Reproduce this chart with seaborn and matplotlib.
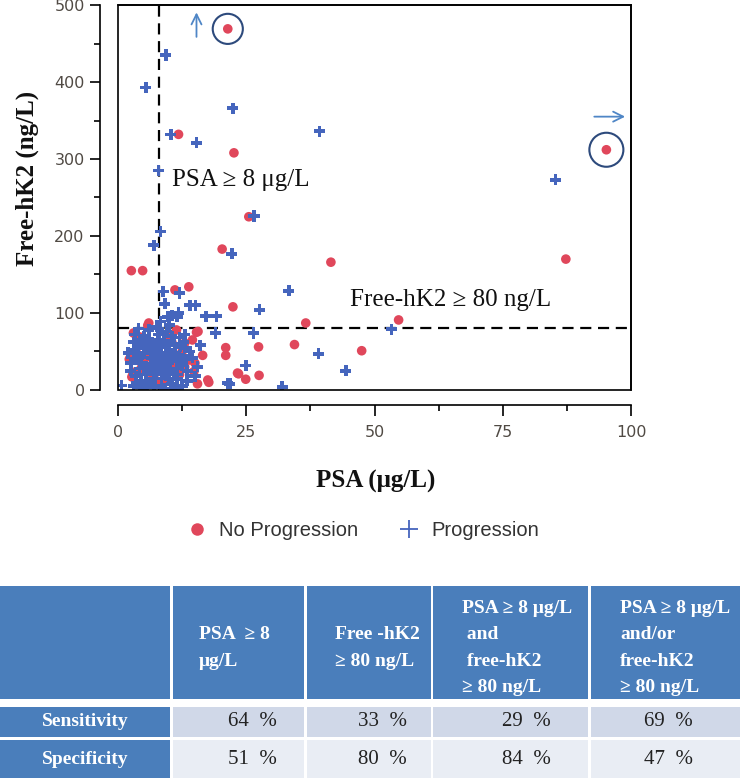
import numpy as np
import pandas as pd
import matplotlib
matplotlib.use("Agg")
import matplotlib.pyplot as plt
import seaborn as sns
from matplotlib.lines import Line2D
from matplotlib.patches import Rectangle

# ---- data ----
# No Progression (red dots)
nopro_psa = [21.4, 95.2, 22.6, 11.8, 25.5, 20.3, 41.5, 87.3, 2.6, 4.8, 11.1, 13.8,
             22.4, 54.7, 36.6, 34.4, 27.4, 47.5, 27.5, 23.5, 24.9, 17.5, 15.6, 11.4,
             6.0, 21.0, 21.0, 17.7, 23.3, 15.3,
             5.8, 2.9, 14.0, 13.0, 15.0, 7.1, 6.2, 4.2, 2.7, 8.0, 10.0, 12.0, 3.5,
             9.0, 6.5, 11.0, 15.5, 14.5, 7.5, 5.0, 13.0, 4.0, 10.5, 16.5, 3.0, 9.5,
             2.2, 6.8, 12.5, 14.8, 8.8, 4.5]
nopro_hk2 = [469, 312, 308, 332, 225, 183, 166, 170, 155, 155, 130, 134,
             108, 91, 87, 59, 56, 51, 19, 21, 14, 13, 76, 78,
             87, 55, 45, 10, 22, 75,
             84, 23, 39, 61, 35, 52, 43, 69, 17, 62, 45, 20, 50,
             10, 28, 35, 8, 65, 12, 38, 30, 8, 62, 45, 74, 70,
             40, 18, 50, 24, 34, 28]

# Progression (blue plus)
pro_psa = [9.3, 5.4, 22.4, 39.3, 10.3, 15.3, 7.9, 85.3, 26.5, 8.3, 7.0, 22.2,
           33.3, 8.8, 12.0, 9.1, 14.0, 15.1, 27.6, 10.5, 11.8, 17.1, 19.2, 8.3,
           53.3, 19.0, 26.4, 3.3, 39.1, 24.9, 44.4, 21.8, 32.0, 0.7, 3.6, 21.4,
           9.7, 11.5, 7.8,
           3.0, 4.0, 5.0, 6.0, 7.0, 8.0, 9.0, 10.0, 11.0, 12.0, 13.0, 14.0,
           3.5, 4.5, 5.5, 6.5, 7.5, 8.5, 9.5, 10.5, 11.5, 12.5, 13.5, 14.5,
           2.5, 3.5, 4.5, 5.5, 6.5, 7.5, 8.5, 9.5, 10.5, 11.5, 12.5, 13.5, 15.0,
           3.0, 5.0, 7.0, 9.0, 11.0, 6.0, 7.5, 9.5, 10.5, 4.0, 5.0, 8.0, 9.0,
           6.0, 12.0, 13.0, 2.0, 2.5, 16.0, 15.5, 8.5, 4.5, 10.0,
           3.8, 5.2, 6.8, 8.2, 9.8, 11.2, 4.2, 5.8, 7.2, 8.8, 10.2, 11.8,
           3.2, 4.8, 6.2, 7.8, 9.2, 10.8, 12.2, 5.5, 7.0, 8.5, 10.0, 11.5,
           13.2, 6.5, 9.0, 4.0, 7.8, 12.8]
pro_hk2 = [435, 393, 366, 336, 332, 321, 285, 273, 226, 206, 188, 177,
           129, 128, 126, 112, 110, 110, 104, 97, 100, 96, 96, 89,
           79, 74, 74, 72, 47, 32, 25, 8, 4, 6, 9, 9,
           95, 95, 80,
           62, 55, 48, 66, 58, 72, 64, 52, 60, 45, 55, 50,
           40, 35, 30, 42, 38, 46, 34, 40, 28, 32, 25, 42,
           25, 18, 12, 20, 10, 22, 15, 20, 8, 14, 5, 12, 18,
           5, 3, 4, 2, 3, 78, 82, 76, 70, 80, 70, 30, 26,
           54, 68, 72, 48, 35, 58, 30, 56, 60, 84,
           45, 58, 50, 42, 58, 48, 28, 25, 32, 20, 28, 38,
           52, 65, 62, 65, 44, 22, 56, 8, 15, 5, 14, 20,
           40, 34, 38, 42, 48, 62]

psa_cut = 8
hk2_cut = 80

legend_labels = ["No Progression", "Progression"]

col_headers = ["PSA  \u2265 8\n\u03bcg/L",
               "Free -hK2\n\u2265 80 ng/L",
               "PSA \u2265 8 \u03bcg/L\n and\n free-hK2\n\u2265 80 ng/L",
               "PSA \u2265 8 \u03bcg/L\nand/or\nfree-hK2\n\u2265 80 ng/L"]
row_labels = ["Sensitivity", "Specificity"]
sensitivity = [64, 33, 29, 69]
specificity = [51, 80, 84, 47]

RED = "#e0475b"
BLUE = "#4565bd"

W, H = 740, 778
sns.set_theme(style="ticks")
plt.rcParams["font.family"] = ["DejaVu Sans"]

fig = plt.figure(figsize=(W / 100, H / 100), dpi=100)

def fx(px):
    return px / W

def fy(py):
    return 1 - py / H

ax = fig.add_axes([fx(118), fy(390), fx(631) - fx(118), fy(5) - fy(390)])

df_red = pd.DataFrame({"psa": nopro_psa, "hk2": nopro_hk2})
df_blue = pd.DataFrame({"psa": pro_psa, "hk2": pro_hk2})

ax.axvline(psa_cut, color="black", lw=1.6, ls=(0, (5, 3)), zorder=1)
ax.axhline(hk2_cut, color="black", lw=1.6, ls=(0, (5, 3)), zorder=1)

sns.scatterplot(data=df_red, x="psa", y="hk2", color=RED, marker="o", s=48,
                edgecolor="none", ax=ax, zorder=3)
sns.scatterplot(data=df_blue, x="psa", y="hk2", color=BLUE, marker="P", s=64,
                edgecolor="none", ax=ax, zorder=4)

# circles around the two off-scale values
top = df_red.loc[df_red["hk2"].idxmax()]
right = df_red.loc[df_red["psa"].idxmax()]
ax.scatter([top["psa"]], [top["hk2"]], s=470, facecolors="none",
           edgecolors="#2d4a7c", linewidths=1.5, zorder=5)
ax.scatter([right["psa"]], [right["hk2"]], s=600, facecolors="none",
           edgecolors="#2d4a7c", linewidths=1.5, zorder=5)
ax.annotate("", xy=(top["psa"] - 6.1, 494), xytext=(top["psa"] - 6.1, 455),
            arrowprops=dict(arrowstyle="->", color="#4f86c6", lw=1.3,
                            mutation_scale=18))
ax.annotate("", xy=(99.4, right["hk2"] + 43), xytext=(92.3, right["hk2"] + 43),
            arrowprops=dict(arrowstyle="->", color="#4f86c6", lw=1.3,
                            mutation_scale=18), annotation_clip=False)

ax.text(10.5, 273, "PSA \u2265 8 \u03bcg/L", fontsize=18, family="Liberation Serif",
        ha="left", va="center", color="#111")
ax.text(45.2, 117, "Free-hK2 \u2265 80 ng/L", fontsize=18, family="Liberation Serif",
        ha="left", va="center", color="#111")

ax.set_xlim(0, 100)
ax.set_ylim(0, 500)
ax.set_xticks([0, 25, 50, 75, 100])
ax.set_xticks([12.5, 37.5, 62.5, 87.5], minor=True)
ax.set_yticks(range(0, 501, 100))
ax.set_yticks(range(50, 500, 100), minor=True)
ax.set_xlabel("")
ax.set_ylabel("")
ax.spines["left"].set_position(("outward", 13))
ax.spines["bottom"].set_position(("outward", 11))
for sp in ax.spines.values():
    sp.set_linewidth(1.2)
    sp.set_color("black")
ax.add_patch(Rectangle((0, 0), 1, 1, transform=ax.transAxes, fill=False,
                       lw=1.2, edgecolor="black", clip_on=False, zorder=6))
ax.tick_params(which="major", length=7, width=1.2, direction="out",
               labelsize=11.5, labelcolor="#504a44", color="black")
ax.tick_params(which="minor", length=4, width=1.2, direction="out", color="black")
ax.tick_params(axis="x", which="major", length=8, pad=6)
ax.tick_params(axis="y", which="major", pad=4)

fig.text(fx(27), fy(178), "Free-hK2 (ng/L)", rotation=90, ha="center", va="center",
         fontsize=18, fontweight="bold", family="Liberation Serif", color="#111")
fig.text(fx(376), fy(481), "PSA (\u03bcg/L)", ha="center", va="center",
         fontsize=18, fontweight="bold", family="Liberation Serif", color="#111")

handles = [Line2D([], [], ls="", marker="o", color=RED, ms=9, mec="none"),
           Line2D([], [], ls="", marker="+", color=BLUE, ms=13, mew=1.3)]
fig.legend(handles, legend_labels, loc="center", ncol=2, frameon=False,
           bbox_to_anchor=(fx(363), fy(531)), handlelength=1.0,
           handletextpad=0.6, columnspacing=2.0,
           prop={"family": "Liberation Sans", "size": 14.5}, labelcolor="#333333")

# ---- table ----
tab = fig.add_axes([0, 0, 1, fy(586)])
tab.set_xlim(0, W)
tab.set_ylim(H, 586)
tab.axis("off")

col_edges = [(0, 170), (173, 304), (307, 431), (433, 588), (591, 742)]
header_rows = (586, 699)
value_rows = [(707, 737), (740, 780)]
HEAD = "#4a7ebb"
row_fill = ["#d0d8e8", "#e9edf4"]

for x0, x1 in col_edges:
    tab.add_patch(Rectangle((x0, header_rows[0]), x1 - x0,
                            header_rows[1] - header_rows[0], color=HEAD, lw=0))
text_x = [199, 335, 462, 620]
for i, txt in enumerate(col_headers):
    tab.text(text_x[i], 648, txt, ha="left", va="center", color="white",
             fontsize=14, fontweight="bold", family="Liberation Serif",
             linespacing=1.7)

val_x = [252, 382, 526, 668]
for r, (y0, y1) in enumerate(value_rows):
    x0, x1 = col_edges[0]
    tab.add_patch(Rectangle((x0, y0), x1 - x0, y1 - y0, color=HEAD, lw=0))
    tab.text((x0 + x1) / 2, (y0 + min(y1, 778)) / 2, row_labels[r], ha="center",
             va="center", color="white", fontsize=14, fontweight="bold",
             family="Liberation Serif")
    vals = sensitivity if r == 0 else specificity
    for c, (cx0, cx1) in enumerate(col_edges[1:]):
        tab.add_patch(Rectangle((cx0, y0), cx1 - cx0, y1 - y0, color=row_fill[r], lw=0))
        tab.text(val_x[c], (y0 + min(y1, 778)) / 2, f"{vals[c]}  %", ha="center",
                 va="center", color="#222222", fontsize=15,
                 family="Liberation Serif")

fig.savefig("out.png", dpi=100)
